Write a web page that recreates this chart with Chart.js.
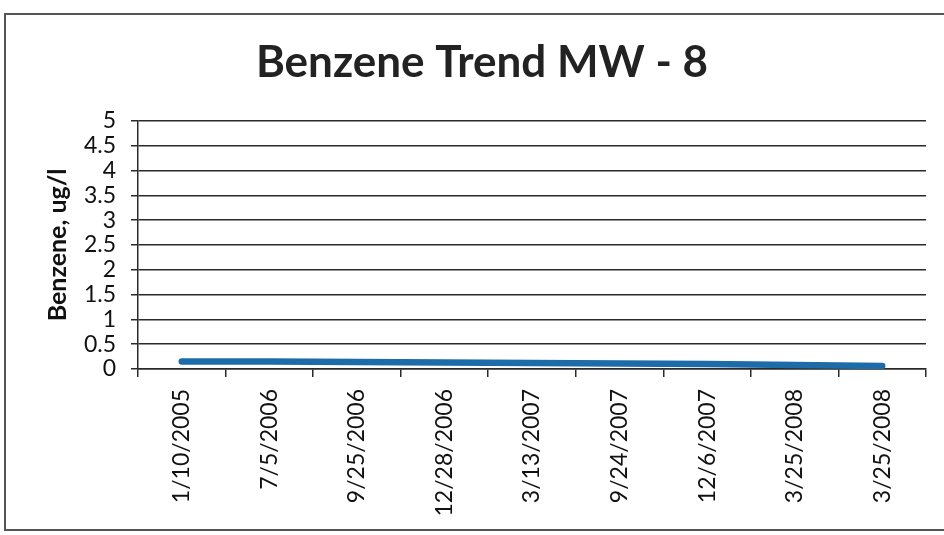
<!DOCTYPE html>
<html>
<head>
<meta charset="utf-8">
<script src="https://cdn.jsdelivr.net/npm/chart.js@4"></script>
<style>
  html, body { margin: 0; padding: 0; background: #fff; overflow: hidden; }
  #frame { position: absolute; left: 4px; top: 13px; width: 960px; height: 514px; border: 2px solid #555; }
  #wrap { position: absolute; left: 0; top: 0; width: 944px; height: 535px; }
</style>
</head>
<body>
<div id="frame"></div>
<div id="wrap"><canvas id="trendChart"></canvas></div>
<script>
var sampleDates = ['1/10/2005', '7/5/2006', '9/25/2006', '12/28/2006', '3/13/2007',
                   '9/24/2007', '12/6/2007', '3/25/2008', '3/25/2008'];
var benzeneValues = [0.15, 0.15, 0.14, 0.13, 0.12, 0.11, 0.10, 0.08, 0.06];
var yTickLabels = ['0', '0.5', '1', '1.5', '2', '2.5', '3', '3.5', '4', '4.5', '5'];

var ctx = document.getElementById('trendChart').getContext('2d');

var trendChart = new Chart(ctx, {
    type: 'line',
    data: {
        labels: sampleDates,
        datasets: [{
            label: 'Benzene',
            data: benzeneValues,
            borderColor: '#1b6ca8',
            borderWidth: 6.5,
            borderCapStyle: 'round',
            pointRadius: 0,
            tension: 0
        }]
    },
    options: {
        responsive: true,
        maintainAspectRatio: false,
        animation: false,
        // left padding keeps the title centred where the original sits
        layout: { padding: { left: 38, right: 18, top: 0, bottom: 0 } },
        plugins: {
            legend: { display: false },
            tooltip: { enabled: false },
            title: {
                display: true,
                text: 'Benzene Trend MW - 8',
                color: '#222',
                font: { family: 'Lato', size: 44, weight: 'bold' },
                padding: { top: 36, bottom: 32 }
            }
        },
        scales: {
            x: {
                type: 'category',
                offset: true,
                grid: {
                    offset: true,
                    drawOnChartArea: false,
                    drawTicks: true,
                    tickLength: 8,
                    color: '#2a2a2a',
                    lineWidth: 1.5
                },
                border: { color: '#2a2a2a', width: 1.5 },
                ticks: {
                    autoSkip: false,
                    maxRotation: 90,
                    minRotation: 90,
                    padding: 12,
                    color: '#111',
                    font: { family: 'Lato', size: 23 }
                },
                afterFit: function (scale) { scale.height = 166; }
            },
            y: {
                min: 0,
                max: 5,
                grid: {
                    color: '#2a2a2a',
                    lineWidth: 1.5,
                    tickLength: 7
                },
                border: { color: '#2a2a2a', width: 1.5 },
                ticks: {
                    stepSize: 0.5,
                    autoSkip: false,
                    padding: 15,
                    color: '#111',
                    font: { family: 'Lato', size: 23 },
                    callback: function (value, index) { return yTickLabels[index]; }
                },
                title: {
                    display: true,
                    text: 'Benzene, ug/l',
                    color: '#111',
                    font: { family: 'Lato', size: 25, weight: 'bold' },
                    padding: { top: 5, bottom: 0 }
                },
                afterFit: function (scale) { scale.width = 100; }
            }
        }
    }
});
</script>
</body>
</html>
